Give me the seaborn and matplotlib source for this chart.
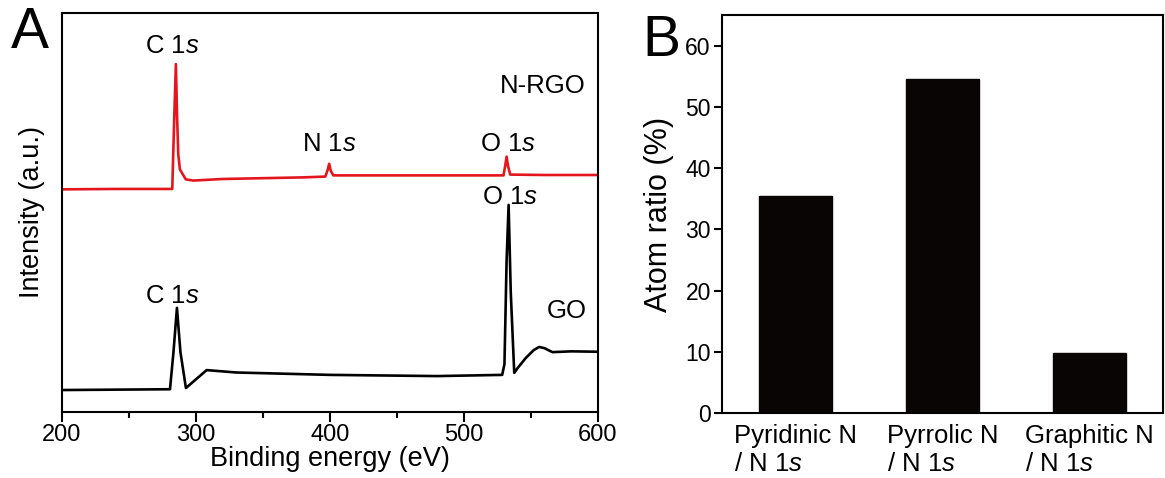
import numpy as np
import pandas as pd
import seaborn as sns
import matplotlib.pyplot as plt

# XPS survey spectra (intensity in arbitrary units)
energy_rgo = [200, 240, 282.3, 283.8, 285.0, 285.9, 286.8, 288.0, 292.4, 298, 320, 350, 380,
              396.5, 398.2, 399.4, 400.6, 402.5, 430, 470, 510, 529.5, 530.8, 531.8, 532.9, 534.5, 560, 600]
intensity_rgo = [55.8, 55.9, 55.9, 74.0, 87.2, 74.0, 64.5, 60.8, 58.3, 58.0, 58.4, 58.6, 58.8,
                 59.0, 60.6, 62.2, 60.4, 59.3, 59.3, 59.3, 59.3, 59.3, 61.8, 64.0, 61.6, 59.5, 59.4, 59.4]

energy_go = [200, 240, 280.6, 283.2, 285.8, 288.4, 292.5, 300, 308, 330, 400, 480, 528.5,
             530.2, 531.8, 533.3, 534.9, 537.5, 540, 546, 552, 556, 560, 566, 580, 600]
intensity_go = [5.5, 5.6, 5.7, 15.0, 26.1, 15.0, 6.0, 8.2, 10.5, 9.9, 9.3, 9.0, 9.3,
                12.0, 38.0, 51.9, 30.0, 9.8, 11.0, 13.5, 15.5, 16.3, 16.0, 15.0, 15.2, 15.1]

# N species ratio
categories = ["Pyridinic N\n/ N 1$s$", "Pyrrolic N\n/ N 1$s$", "Graphitic N\n/ N 1$s$"]
atom_ratio = [35.4, 54.6, 9.8]

sns.set_theme(style="ticks")
plt.rcParams['font.family'] = ['Liberation Sans', 'DejaVu Sans']
plt.rcParams['mathtext.fontset'] = 'custom'
plt.rcParams['mathtext.rm'] = 'Liberation Sans'
plt.rcParams['mathtext.it'] = 'Liberation Sans:italic'
plt.rcParams['axes.linewidth'] = 1.5
for key in ['text.color', 'axes.labelcolor', 'axes.edgecolor', 'xtick.color', 'ytick.color']:
    plt.rcParams[key] = 'black'

fig = plt.figure(figsize=(11.65, 4.78), dpi=100)
axA = fig.add_axes([0.0532, 0.1381, 0.4601, 0.8347])
axB = fig.add_axes([0.6197, 0.1360, 0.3786, 0.8326])

# Panel A
rgo = pd.DataFrame({'energy': energy_rgo, 'intensity': intensity_rgo})
go = pd.DataFrame({'energy': energy_go, 'intensity': intensity_go})
sns.lineplot(data=rgo, x='energy', y='intensity', color='#e4161d', lw=1.9, ax=axA)
sns.lineplot(data=go, x='energy', y='intensity', color='black', lw=1.9, ax=axA)
axA.set_xlim(200, 600)
axA.set_ylim(0, 100)
axA.set_xticks([200, 300, 400, 500, 600])
axA.set_xticks([250, 350, 450, 550], minor=True)
axA.set_yticks([])
axA.tick_params(axis='x', which='major', length=7, width=1.5, labelsize=17, direction='out', pad=2)
axA.tick_params(axis='x', which='minor', length=4, width=1.5, direction='out')
axA.set_xlabel('Binding energy (eV)', fontsize=19.5, labelpad=0)
axA.set_ylabel('Intensity (a.u.)', fontsize=19.5, labelpad=12)
for s in axA.spines.values():
    s.set_visible(True)

ann = 18.5
axA.text(282, 91.7, 'C 1$s$', fontsize=ann, ha='center', va='center')
axA.text(399.6, 67.2, 'N 1$s$', fontsize=ann, ha='center', va='center')
axA.text(533, 67.2, 'O 1$s$', fontsize=ann, ha='center', va='center')
axA.text(559, 81.7, 'N-RGO', fontsize=ann, ha='center', va='center')
axA.text(534, 53.9, 'O 1$s$', fontsize=ann, ha='center', va='center')
axA.text(282, 29.1, 'C 1$s$', fontsize=ann, ha='center', va='center')
axA.text(577, 25.3, 'GO', fontsize=ann, ha='center', va='center')

# Panel B
sns.barplot(x=categories, y=atom_ratio, color='#0a0505', width=0.5, saturation=1,
            edgecolor='#0a0505', ax=axB)
axB.set_xlim(-0.5, 2.5)
axB.set_ylim(0, 65)
axB.set_yticks([0, 10, 20, 30, 40, 50, 60])
axB.tick_params(axis='y', length=6, width=1.5, labelsize=16.5, pad=2)
axB.tick_params(axis='x', length=0, labelsize=18.5, pad=8)
for lab in axB.get_xticklabels():
    lab.set_multialignment('left')
axB.set_ylabel('Atom ratio (%)', fontsize=22, labelpad=8)
for s in axB.spines.values():
    s.set_visible(True)

fig.text(0.009, 0.93, 'A', fontsize=41, ha='left', va='center')
fig.text(0.551, 0.915, 'B', fontsize=41, ha='left', va='center')

fig.savefig('out.png', dpi=100)
